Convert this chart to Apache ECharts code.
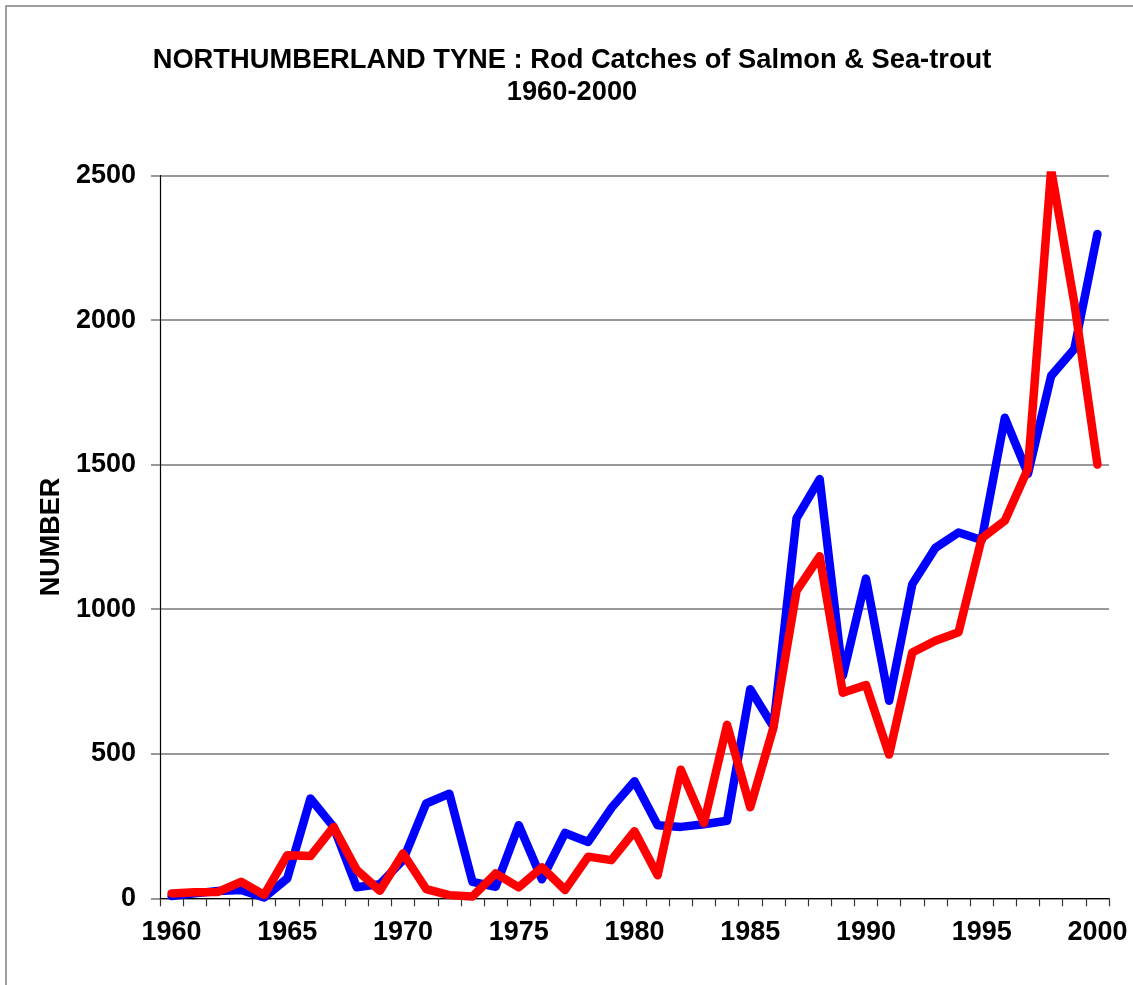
<!DOCTYPE html>
<html>
<head>
<meta charset="utf-8">
<script src="https://cdn.jsdelivr.net/npm/echarts@6/dist/echarts.min.js"></script>
<style>
html,body{margin:0;padding:0;background:#fff;}
#chart{width:1133px;height:985px;}
</style>
</head>
<body>
<div id="chart"></div>
<script>
var years = [];
for (var y = 1960; y <= 2000; y++) years.push(String(y));

var titleLines = ['NORTHUMBERLAND TYNE : Rod Catches of Salmon & Sea-trout', '1960-2000'];
var yAxisName = 'NUMBER';

var blueSeries = [8, 17, 25, 29, 3, 69, 345, 247, 38, 49,
  132, 328, 362, 57, 40, 253, 66, 226, 195, 312,
  405, 253, 247, 256, 268, 723, 593, 1314, 1450, 770,
  1106, 683, 1086, 1212, 1265, 1239, 1662, 1468, 1807, 1900,
  2298];

var redSeries = [17, 21, 22, 57, 12, 149, 146, 247, 98, 26,
  155, 32, 11, 6, 86, 38, 107, 29, 144, 132,
  232, 80, 445, 260, 600, 315, 590, 1063, 1183, 711,
  738, 497, 850, 891, 920, 1245, 1306, 1486, 2520, 2060,
  1500];

var FONT = '"Liberation Sans", Arial, sans-serif';
var chart = echarts.init(document.getElementById('chart'));
chart.setOption({
  animation: false,
  backgroundColor: '#ffffff',
  graphic: [{
    type: 'rect',
    shape: { x: 6, y: 6, width: 1300, height: 1300 },
    style: { fill: 'none', stroke: '#808080', lineWidth: 1.5 },
    silent: true
  }],
  title: {
    text: titleLines.join('\n'),
    left: 567,
    top: 39,
    textAlign: 'center',
    textStyle: { fontFamily: FONT, fontWeight: 'bold', fontSize: 27.3, lineHeight: 32, color: '#000' }
  },
  grid: { left: 160, right: 24, top: 175.5, bottom: 86.7, containLabel: false },
  xAxis: {
    type: 'category',
    data: years,
    boundaryGap: true,
    axisLine: { lineStyle: { color: '#000', width: 1.2 } },
    axisTick: { show: true, interval: 0, length: 8, lineStyle: { color: '#333', width: 1.2 } },
    axisLabel: { interval: 4, margin: 21, fontFamily: FONT, fontWeight: 'bold', fontSize: 27, color: '#000' },
    splitLine: { show: false }
  },
  yAxis: {
    type: 'value',
    min: 0, max: 2500, interval: 500,
    name: yAxisName,
    nameLocation: 'middle',
    nameGap: 79,
    nameTextStyle: { fontFamily: FONT, fontWeight: 'bold', fontSize: 27, color: '#000' },
    axisLine: { show: true, lineStyle: { color: '#000', width: 1.2 } },
    axisTick: { show: true, length: 9, lineStyle: { color: '#777', width: 1.5 } },
    axisLabel: { margin: 24, fontFamily: FONT, fontWeight: 'bold', fontSize: 27, color: '#000',
      formatter: function (v) { return String(v); } },
    splitLine: { show: true, lineStyle: { color: '#777', width: 1.5 } }
  },
  series: [{
    name: 'Salmon',
    type: 'line',
    data: blueSeries,
    showSymbol: false,
    symbol: 'none',
    clip: true,
    lineStyle: { color: '#0000ff', width: 8.5, join: 'round', cap: 'round' },
    itemStyle: { color: '#0000ff' }
  }, {
    name: 'Sea-trout',
    type: 'line',
    data: redSeries,
    showSymbol: false,
    symbol: 'none',
    clip: true,
    lineStyle: { color: '#ff0000', width: 8.5, join: 'round', cap: 'round' },
    itemStyle: { color: '#ff0000' }
  }]
});
</script>
</body>
</html>
